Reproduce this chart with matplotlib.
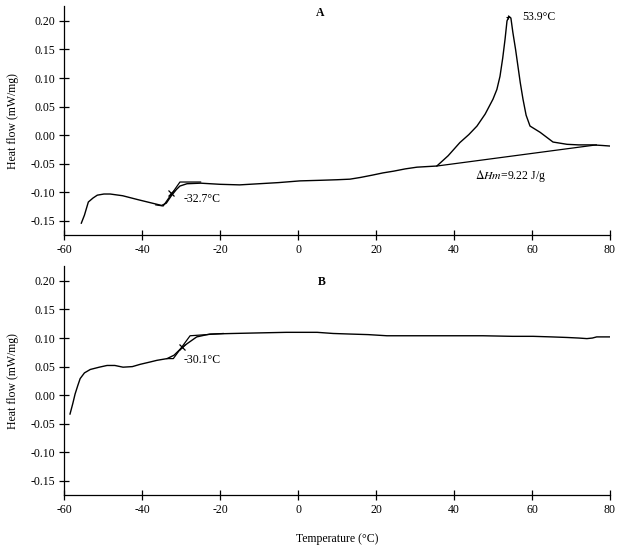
import numpy as np
import matplotlib
matplotlib.use('Agg')
import matplotlib.pyplot as plt

plt.rcParams['font.family'] = ['Liberation Serif', 'DejaVu Serif']
plt.rcParams['mathtext.fontset'] = 'stix'

# 曲线 A (DSC 升温曲线)
a_temp = [-55.6, -54.8, -53.8, -52.6, -51.5, -49.8, -48.2, -45.0, -41.0, -38.0, -36.2, -35.0,
          -33.8, -32.5, -31.2, -30.3, -28.5, -25.0, -20.0, -15.0, -10.0, -5.0, 0.5, 5.6,
          10.0, 13.3, 16.0, 19.0, 21.8, 24.5, 27.5, 30.5, 33.0, 35.6, 38.5, 41.5, 43.8, 45.9, 48.0, 50.0, 51.0,
          51.8, 52.5, 53.1, 53.6, 54.1, 54.6, 55.1, 55.8, 56.4, 57.0, 57.7, 58.5, 59.5,
          62.1, 65.4, 69.0, 72.0, 75.6, 78.0, 80.0]
a_flow = [-0.154, -0.140, -0.117, -0.110, -0.105, -0.103, -0.103, -0.106, -0.113, -0.118, -0.121, -0.123,
          -0.119, -0.106, -0.095, -0.089, -0.085, -0.084, -0.086, -0.087, -0.085, -0.083, -0.080, -0.079,
          -0.078, -0.077, -0.074, -0.070, -0.066, -0.063, -0.059, -0.056, -0.055, -0.054, -0.036, -0.013,
          0.001, 0.016, 0.037, 0.063, 0.080,
          0.103, 0.135, 0.168, 0.200, 0.208, 0.205, 0.180, 0.150, 0.121, 0.092, 0.063, 0.035, 0.016,
          0.005, -0.012, -0.016, -0.017, -0.017, -0.018, -0.019]
# A 的切线构造 (玻璃化转变) 和熔融峰基线
a_tan_x = [-36.5, -34.6, -30.3, -25.0]
a_tan_y = [-0.122, -0.124, -0.082, -0.082]
a_base_x = [35.6, 76.5]
a_base_y = [-0.054, -0.017]
a_tg = (-32.5, -0.102)
a_peak = (53.9, 0.207)

# 曲线 B
b_temp = [-58.5, -57.8, -57.2, -56.5, -55.9, -54.8, -53.3, -51.0, -49.0, -47.0, -44.9, -42.5,
          -40.5, -38.0, -36.2, -33.6, -31.8, -30.3, -28.5, -26.0, -24.0, -22.6, -16.7, -10.0,
          -3.0, 0.5, 4.9, 9.0, 13.3, 18.0, 22.8, 30.0, 40.0, 47.4, 55.0, 60.3, 65.0, 69.0,
          72.0, 74.1, 75.5, 76.6, 80.0]
b_flow = [-0.033, -0.015, 0.002, 0.017, 0.029, 0.039, 0.045, 0.049, 0.052, 0.052, 0.049, 0.050,
          0.054, 0.058, 0.061, 0.064, 0.070, 0.080, 0.090, 0.102, 0.105, 0.107, 0.108, 0.109,
          0.110, 0.110, 0.110, 0.108, 0.107, 0.106, 0.104, 0.104, 0.104, 0.104, 0.103, 0.103, 0.102, 0.101,
          0.100, 0.099, 0.100, 0.102, 0.102]
b_tan_x = [-33.6, -32.0, -27.7, -19.2]
b_tan_y = [0.064, 0.064, 0.104, 0.108]
b_tg = (-29.9, 0.084)

yticks = [-0.15, -0.10, -0.05, 0.00, 0.05, 0.10, 0.15, 0.20]
xticks = [-60, -40, -20, 0, 20, 40, 60, 80]

fig = plt.figure(figsize=(6.23, 5.52), dpi=100)
ax_a = fig.add_axes([0.103, 0.574, 0.876, 0.415])
ax_b = fig.add_axes([0.103, 0.103, 0.876, 0.415])


def style_ax(ax):
    ax.set_xlim(-60, 80)
    ax.set_ylim(-0.175, 0.226)
    ax.set_xticks(xticks)
    ax.set_yticks(yticks)
    ax.set_xticklabels([str(t) for t in xticks])
    ax.set_yticklabels(['%.2f' % t for t in yticks])
    for s in ['top', 'right']:
        ax.spines[s].set_visible(False)
    for s in ['left', 'bottom']:
        ax.spines[s].set_linewidth(0.9)
    ax.tick_params(direction='inout', length=7, width=0.9, labelsize=8.5, pad=3)
    ax.set_ylabel('Heat flow (mW/mg)', fontsize=8.5, labelpad=8)
    ax.patch.set_alpha(0)


style_ax(ax_a)
ax_a.plot(a_temp, a_flow, color='k', lw=1.0)
ax_a.plot(a_tan_x, a_tan_y, color='k', lw=0.9)
ax_a.plot(a_base_x, a_base_y, color='k', lw=0.9)
ax_a.plot(*a_tg, marker='x', color='k', ms=4, mew=0.9)
ax_a.plot(*a_peak, marker='+', color='k', ms=3, mew=0.8)
ax_a.text(-29.5, -0.112, '-32.7°C', fontsize=8.5, va='center', ha='left')
ax_a.text(57.4, 0.206, '53.9°C', fontsize=8.5, va='center', ha='left')
ax_a.text(45.4, -0.072, r'$\Delta\mathit{Hm}$=9.22 J/g', fontsize=8.5, va='center', ha='left')
ax_a.text(5.6, 0.97, 'A', transform=ax_a.get_xaxis_transform(), fontsize=8.5, fontweight='bold',
          ha='center', va='center')

style_ax(ax_b)
ax_b.plot(b_temp, b_flow, color='k', lw=1.0)
ax_b.plot(b_tan_x, b_tan_y, color='k', lw=0.9)
ax_b.plot(*b_tg, marker='x', color='k', ms=4, mew=0.9)
ax_b.text(-29.5, 0.062, '-30.1°C', fontsize=8.5, va='center', ha='left')
ax_b.text(6.0, 0.93, 'B', transform=ax_b.get_xaxis_transform(), fontsize=8.5, fontweight='bold',
          ha='center', va='center')
ax_b.set_xlabel('Temperature (°C)', fontsize=8.5, labelpad=12)

plt.savefig('out.png', dpi=100)
